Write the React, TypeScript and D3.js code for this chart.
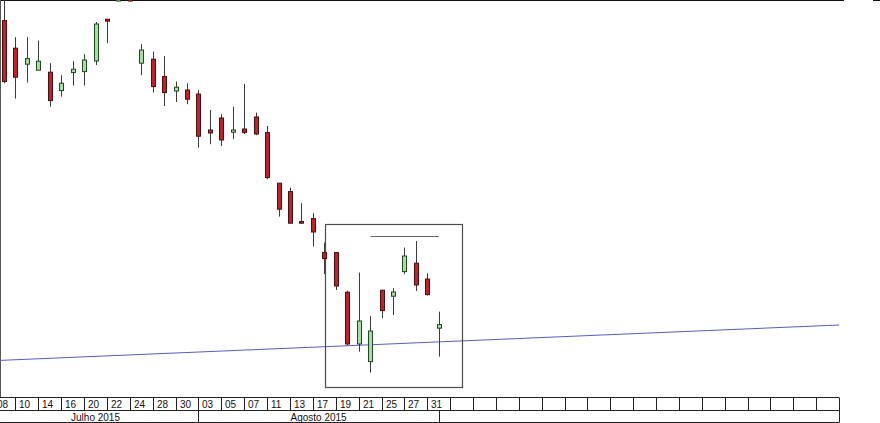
import React from "react";
import * as d3 from "d3";

// ---- Data ----
const open = [28.97, 27.59, 26.79, 26.49, 26.39, 25.47, 26.37, 26.42, 26.95, 29.04,
  29.95, 30.4, 26.84, 27.04, 26.17, 25.45, 25.5, 25.3, 23.5, 24.1,
  23.39, 23.55, 24.15, 23.37, 20.84, 20.42, 18.92, 19.07, 17.37, 17.37,
  15.39, 12.8, 11.92, 15.49, 15.19, 16.42, 16.84, 16.05, 13.59];
const high = [30.5, 28.14, 28.14, 27.97, 26.84, 26.24, 26.94, 27.29, 28.9, 29.04,
  31.0, 30.75, 27.79, 27.42, 27.2, 25.92, 25.84, 25.5, 24.5, 24.29,
  24.67, 25.8, 24.37, 23.7, 20.84, 20.62, 19.84, 19.34, 17.87, 17.37,
  15.47, 16.37, 14.2, 15.49, 15.59, 17.62, 17.95, 16.34, 14.42];
const low = [25.84, 25.07, 25.87, 26.48, 24.67, 25.17, 25.72, 25.72, 26.75, 27.84,
  29.93, 29.93, 26.24, 25.37, 24.7, 24.9, 24.79, 22.62, 22.79, 22.7,
  23.04, 23.3, 23.24, 21.04, 19.17, 18.83, 18.83, 17.67, 16.3, 15.5,
  12.74, 12.42, 11.37, 14.09, 14.25, 16.29, 15.45, 15.22, 12.17];
const close = [25.92, 26.14, 27.07, 26.94, 24.97, 25.84, 26.54, 27.0, 28.8, 28.94,
  30.5, 29.95, 27.5, 25.67, 25.37, 25.64, 25.04, 23.19, 23.35, 23.0,
  23.5, 23.37, 23.3, 21.12, 19.54, 18.84, 18.84, 18.4, 17.07, 15.7,
  12.8, 13.95, 13.45, 14.47, 15.4, 17.2, 15.75, 15.27, 13.77];

const dayLabels = ["08", "10", "14", "16", "20", "22", "24", "28", "30",
  "03", "05", "07", "11", "13", "17", "19", "21", "25", "27", "31"];
const emptyCellCount = 17;
const axisCells = [...dayLabels, ...Array(emptyCellCount).fill("")];

const monthLabels = ["Julho 2015", "Agosto 2015", ""];
const monthBounds = [-1, 17, 38, 73]; // in trading-day index units

const trendIdx = [-0.35, 73];
const trendPrice = [11.98, 13.75];
const boxIdx = [28.06, 40.06];
const boxPrice = [18.79, 10.62];
const levelIdx = [32.05, 38.02];
const levelPrice = 18.2;

// ---- Layout ----
const W = 880;
const H = 423;
const plotBottom = 397.5;
const rowMid = 410.5;
const rowBottom = 422.5;

const x = d3.scaleLinear().domain([0, 73]).range([4, 4 + 11.44 * 73]);
const y = d3.scaleLinear().domain([10, 30]).range([400, 0]);

const RED = "#c1222a";
const RED_STROKE = "#4a0f10";
const GREEN = "#a8dca4";
const GREEN_STROKE = "#1f4a1f";
const WICK = "#3a3a3a";
const FONT = "Arial, 'Liberation Sans', sans-serif";

export default function App() {
  const candles = open.map((o, i) => ({ o, h: high[i], l: low[i], c: close[i], i }));
  const cellLeft = (k: number) => x(2 * k - 1);
  const axisEnd = cellLeft(axisCells.length);

  return (
    <svg
      width={W}
      height={H}
      style={{ position: "fixed", left: 0, top: 0, background: "#fff" }}
      xmlns="http://www.w3.org/2000/svg"
    >
      <defs>
        <clipPath id="plotClip">
          <rect x={0} y={0} width={W} height={plotBottom} />
        </clipPath>
      </defs>
      <rect x={0} y={0} width={W} height={H} fill="#fff" />

      {/* top border */}
      <line x1={0} x2={844} y1={0.5} y2={0.5} stroke="#111" strokeWidth={1} />
      <line x1={873} x2={880} y1={0.5} y2={0.5} stroke="#111" strokeWidth={1} />
      {/* left border */}
      <line x1={0.5} x2={0.5} y1={0} y2={plotBottom} stroke="#555" strokeWidth={1} />

      <g clipPath="url(#plotClip)">
        {/* trend line */}
        <line
          x1={x(trendIdx[0])}
          y1={y(trendPrice[0])}
          x2={x(trendIdx[1])}
          y2={y(trendPrice[1])}
          stroke="#5b5bc8"
          strokeWidth={1}
        />
        {/* box */}
        <rect
          x={Math.round(x(boxIdx[0])) + 0.5}
          y={Math.round(y(boxPrice[0])) + 0.5}
          width={Math.round(x(boxIdx[1]) - x(boxIdx[0]))}
          height={Math.round(y(boxPrice[1]) - y(boxPrice[0]))}
          fill="none"
          stroke="#4d4d4d"
          strokeWidth={1.2}
        />
        <line
          x1={x(levelIdx[0])}
          x2={x(levelIdx[1])}
          y1={Math.round(y(levelPrice)) + 0.5}
          y2={Math.round(y(levelPrice)) + 0.5}
          stroke="#666"
          strokeWidth={1}
        />

        {candles.map((d) => {
          const cx = Math.round(x(d.i));
          const up = d.c >= d.o;
          const top = y(Math.max(d.o, d.c));
          const bot = y(Math.min(d.o, d.c));
          return (
            <g key={d.i}>
              <line
                x1={cx + 0.5}
                x2={cx + 0.5}
                y1={y(d.h)}
                y2={y(d.l)}
                stroke={WICK}
                strokeWidth={1}
              />
              <rect
                x={cx - 1.5}
                y={top}
                width={4}
                height={Math.max(1, bot - top)}
                fill={up ? GREEN : RED}
                stroke={up ? GREEN_STROKE : RED_STROKE}
                strokeWidth={1}
              />
            </g>
          );
        })}
      </g>

      {/* date axis */}
      <g fontFamily={FONT} fontSize={10} fill="#111">
        <line x1={0} x2={axisEnd} y1={plotBottom} y2={plotBottom} stroke="#222" />
        <line x1={0} x2={axisEnd} y1={rowMid} y2={rowMid} stroke="#222" />
        <line x1={0} x2={axisEnd} y1={rowBottom} y2={rowBottom} stroke="#222" />
        {axisCells.map((lab, k) => {
          const lx = Math.round(cellLeft(k));
          return (
            <g key={k}>
              <line
                x1={lx + 0.5}
                x2={lx + 0.5}
                y1={plotBottom}
                y2={rowMid}
                stroke="#222"
              />
              {lab && (
                <text x={lx + 4} y={408} textAnchor="start">
                  {lab}
                </text>
              )}
            </g>
          );
        })}
        <line
          x1={Math.round(axisEnd) + 0.5}
          x2={Math.round(axisEnd) + 0.5}
          y1={plotBottom}
          y2={rowBottom}
          stroke="#222"
        />
        {monthLabels.map((m, j) => {
          const a = x(monthBounds[j]);
          const b = x(monthBounds[j + 1]);
          return (
            <g key={j}>
              {j > 0 && (
                <line
                  x1={Math.round(a) + 0.5}
                  x2={Math.round(a) + 0.5}
                  y1={rowMid}
                  y2={rowBottom}
                  stroke="#222"
                />
              )}
              {m && (
                <text x={(a + b) / 2} y={421} textAnchor="middle">
                  {m}
                </text>
              )}
            </g>
          );
        })}
      </g>
    </svg>
  );
}
